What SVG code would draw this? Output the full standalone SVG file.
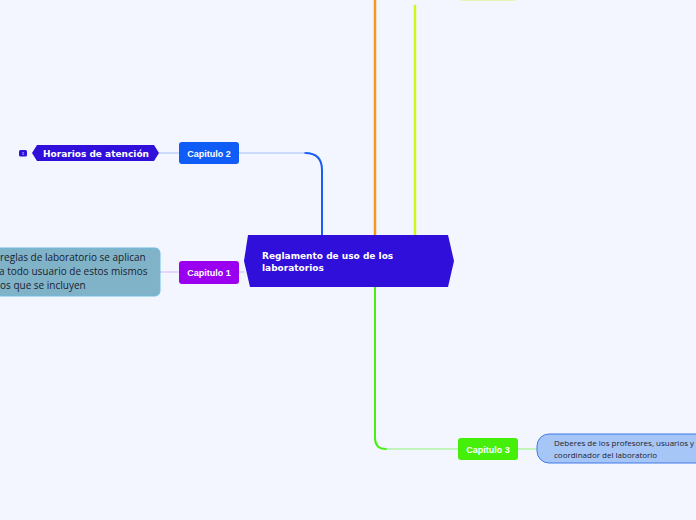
<svg xmlns="http://www.w3.org/2000/svg" width="696" height="520" viewBox="0 0 696 520">
<style>
.cap{font-family:"Liberation Sans",Arial,sans-serif;font-weight:bold;font-size:9px;fill:#fff;text-anchor:middle}
.hx{font-family:"DejaVu Sans",Verdana,sans-serif;font-weight:bold;font-size:9px;fill:#fff}
.body{font-family:"Open Sans","Noto Sans",sans-serif;fill:#1b1d2e}
.br{fill:none;stroke-linecap:round}
</style>
<rect width="696" height="520" fill="#f3f6fe"/>
<g id="connectors">
  <path class="br" d="M375 236 V-5" stroke="#f7971c" stroke-width="2.5"/>
  <path class="br" d="M415 236 V6" stroke="#d2f51c" stroke-width="2.5"/>
  <path class="br" d="M322 236 V170 Q322 153 305 153" stroke="#1a5cf6" stroke-width="2"/>
  <path class="br" d="M305 153 H239" stroke="#a6bdf8" stroke-width="1.2"/>
  <path class="br" d="M179 153 H159" stroke="#a6bdf8" stroke-width="1.2"/>
  <path class="br" d="M244 272 H239" stroke="#d9b3f5" stroke-width="1.2"/>
  <path class="br" d="M179 272 H160" stroke="#d9b3f5" stroke-width="1.2"/>
  <path class="br" d="M375 287 V438 Q375 449 386 449" stroke="#48ef10" stroke-width="2"/>
  <path class="br" d="M386 449 H458" stroke="#8ef27a" stroke-width="1.2"/>
  <path class="br" d="M518 449 H537" stroke="#8ef27a" stroke-width="1.2"/>
</g>
<g id="central">
  <polygon points="248,235 448,235 454,261 448,287 250,287 244,261" fill="#2f0fd9"/>
  <text class="hx"><tspan x="262" y="259">Reglamento de uso de los</tspan><tspan x="262" y="270.5">laboratorios</tspan></text>
</g>
<g id="capitulo4">
  <rect x="459" y="-22" width="58" height="22.5" rx="3" fill="#dcf46a"/>
</g>
<g id="capitulo2">
  <rect x="179" y="142" width="60" height="22" rx="3" fill="#0f5cf6"/>
  <text class="cap" x="209" y="156.5">Capitulo 2</text>
</g>
<g id="horarios">
  <polygon points="37,145 154,145 159,153 154,161 37,161 32,153" fill="#2f0fd9"/>
  <text class="hx" x="43" y="157">Horarios de atención</text>
</g>
<g id="collapse">
  <rect x="19" y="150" width="8" height="6.5" rx="1.5" fill="#2f0fd9"/>
  <text x="23" y="155" font-family="DejaVu Sans,sans-serif" font-size="4" fill="#fff" text-anchor="middle">1</text>
</g>
<g id="capitulo1">
  <rect x="179" y="261" width="60" height="23" rx="3" fill="#9a00ef"/>
  <text class="cap" x="209" y="275.5">Capitulo 1</text>
</g>
<g id="reglas">
  <rect x="-20" y="248" width="180" height="48" rx="5" fill="#80b3c8" stroke="#6cbde0" stroke-width="1"/>
  <text class="body" font-size="10"><tspan x="0" y="261">reglas de laboratorio se aplican</tspan><tspan x="-1" y="275">a todo usuario de estos mismos</tspan><tspan x="0" y="289">os que se incluyen</tspan></text>
</g>
<g id="capitulo3">
  <rect x="458" y="438" width="60" height="22" rx="3" fill="#46ef0a"/>
  <text class="cap" x="488" y="452.5">Capitulo 3</text>
</g>
<g id="deberes">
  <rect x="537" y="434" width="180" height="29" rx="12" fill="#a7c6f8" stroke="#3f79e8" stroke-width="1"/>
  <text class="body" font-size="8"><tspan x="554" y="446">Deberes de los profesores, usuarios y</tspan><tspan x="554" y="457.5">coordinador del laboratorio</tspan></text>
</g>
</svg>
